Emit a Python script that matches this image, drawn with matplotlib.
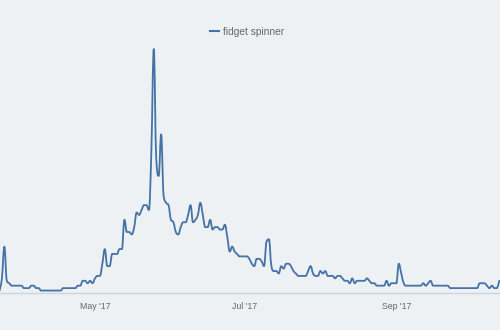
import matplotlib
matplotlib.use("Agg")
import matplotlib.pyplot as plt
import matplotlib.dates as mdates
from matplotlib.path import Path
from matplotlib.patches import PathPatch
import numpy as np
import pandas as pd

# Daily search interest, 2017-03-23 .. 2017-10-13
start_date = "2017-03-23"
interest = [
    1, 6, 19, 5, 4, 3, 3, 3, 3, 3,
    2, 2, 2, 3, 3, 2, 2, 1, 1, 1,
    1, 1, 1, 1, 1, 1, 2, 2, 2, 2,
    2, 2, 3, 3, 5, 5, 4, 5, 4, 6,
    7, 7, 12, 18, 11, 11, 16, 16, 16, 18,
    18, 30, 25, 25, 24, 27, 33, 32, 34, 36,
    36, 34, 58, 100, 55, 48, 65, 40, 37, 36,
    30, 29, 25, 24, 27, 29, 29, 32, 36, 29,
    30, 32, 37, 32, 27, 27, 30, 26, 27, 27,
    26, 26, 28, 23, 17, 19, 17, 16, 15, 15,
    15, 15, 14, 12, 11, 14, 14, 13, 11, 21,
    22, 11, 9, 9, 8, 11, 10, 12, 12, 11,
    9, 8, 7, 7, 7, 7, 9, 11, 8, 7,
    7, 9, 8, 9, 7, 7, 7, 6, 7, 7,
    6, 5, 5, 4, 6, 4, 5, 5, 5, 5,
    6, 5, 4, 4, 3, 3, 3, 3, 5, 3,
    4, 4, 4, 12, 8, 4, 3, 3, 3, 3,
    3, 3, 3, 4, 3, 4, 5, 3, 3, 3,
    3, 3, 3, 3, 2, 2, 2, 2, 2, 2,
    2, 2, 2, 2, 2, 2, 4, 4, 4, 3,
    2, 3, 2, 2, 5,
]
series_name = "fidget spinner"
tick_dates = ["2017-05-01", "2017-07-01", "2017-09-01"]
tick_labels = ["May '17", "Jul '17", "Sep '17"]

dates = pd.date_range(start_date, periods=len(interest), freq="D")


def spline_path(xs, ys, smoothing=1.5):
    """Bezier spline through the data points (Highcharts-style spline rendering)."""
    n = len(xs)
    denom = smoothing + 1
    lc = [(xs[0], ys[0])] * n
    rc = [(xs[0], ys[0])] * n
    lc = list(lc)
    rc = list(rc)
    for i in range(n):
        x, y = xs[i], ys[i]
        if i == 0 or i == n - 1:
            lc[i] = (x, y)
            rc[i] = (x, y)
            continue
        px, py = xs[i - 1], ys[i - 1]
        nx, ny = xs[i + 1], ys[i + 1]
        lx = (smoothing * x + px) / denom
        ly = (smoothing * y + py) / denom
        rx = (smoothing * x + nx) / denom
        ry = (smoothing * y + ny) / denom
        if rx != lx:
            corr = ((ry - ly) * (rx - x)) / (rx - lx) + y - ry
            ly += corr
            ry += corr
        if ly > py and ly > y:
            ly = max(py, y)
            ry = 2 * y - ly
        elif ly < py and ly < y:
            ly = min(py, y)
            ry = 2 * y - ly
        if ry > ny and ry > y:
            ry = max(ny, y)
            ly = 2 * y - ry
        elif ry < ny and ry < y:
            ry = min(ny, y)
            ly = 2 * y - ry
        lc[i] = (lx, ly)
        rc[i] = (rx, ry)
    verts = [(xs[0], ys[0])]
    codes = [Path.MOVETO]
    for i in range(1, n):
        verts += [rc[i - 1], lc[i], (xs[i], ys[i])]
        codes += [Path.CURVE4] * 3
    return Path(verts, codes)


W, H = 500, 330
fig = plt.figure(figsize=(W / 100, H / 100), dpi=100)
bg = "#edf1f3"
fig.patch.set_facecolor(bg)

plot_bottom_px = 293
ax = fig.add_axes([0, (H - plot_bottom_px) / H, 1, plot_bottom_px / H])
ax.set_facecolor(bg)

line_color = "#4572a7"
xnum = mdates.date2num(dates)
path = spline_path(list(xnum), [float(v) for v in interest])
patch = PathPatch(path, facecolor="none", edgecolor=line_color, lw=1.3,
                  joinstyle="round", capstyle="round")
ax.add_patch(patch)
# legend handle
ax.plot([], [], color=line_color, lw=1.5, label=series_name)

may1 = pd.Timestamp("2017-05-01")
px_per_day = 2.45
ax.set_xlim(mdates.date2num(may1) - 95 / px_per_day,
            mdates.date2num(may1) + (W - 95) / px_per_day)
ax.set_ylim(0, plot_bottom_px / 2.44)

for s in ["top", "right", "left"]:
    ax.spines[s].set_visible(False)
ax.spines["bottom"].set_color("#ccd6de")
ax.spines["bottom"].set_linewidth(1)
ax.set_yticks([])
ax.set_xticks([mdates.date2num(pd.Timestamp(d)) for d in tick_dates])
ax.set_xticklabels(tick_labels, fontsize=6.3, color="#666666",
                   family=["Liberation Sans", "DejaVu Sans"])
ax.tick_params(axis="x", length=0, pad=6.5)

leg = fig.legend(loc="center", bbox_to_anchor=(247 / W, 1 - 32 / H),
                 frameon=False, handlelength=0.9, handletextpad=0.4,
                 prop={"family": ["Liberation Sans", "DejaVu Sans"], "size": 7.3})
for t in leg.get_texts():
    t.set_color("#666666")

fig.savefig("out.png", dpi=100, facecolor=bg)
